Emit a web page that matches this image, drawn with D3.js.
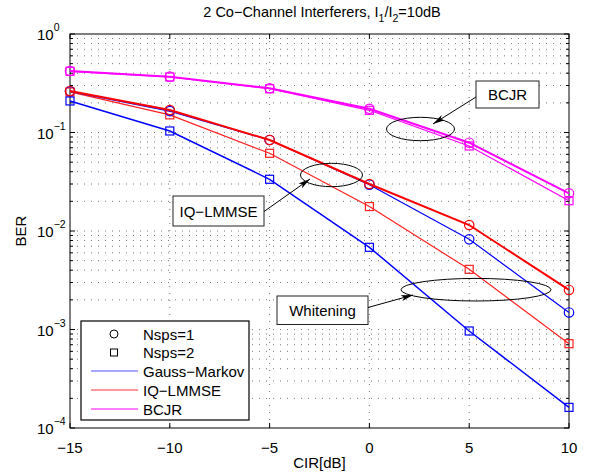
<!DOCTYPE html>
<html>
<head>
<meta charset="utf-8">
<script src="https://cdn.jsdelivr.net/npm/d3@7"></script>
<style>
    body { margin: 0; background: #fff; }
    svg { font-family: "Liberation Sans", Arial, sans-serif; }
</style>
</head>
<body>
<svg id="chart" width="590" height="473"></svg>
<script>
// Data
const cir_db = [-15, -10, -5, 0, 5, 10];
const gauss_nsps1 = [0.262, 0.165, 0.084, 0.0295, 0.00824, 0.00149];
const gauss_nsps2 = [0.209, 0.1036, 0.0335, 0.00683, 0.000966, 0.000162];
const iq_nsps1 = [0.264, 0.169, 0.0839, 0.030, 0.0115, 0.00252];
const iq_nsps2 = [0.258, 0.151, 0.0615, 0.0177, 0.00408, 0.000718];
const bcjr_nsps1 = [0.421, 0.369, 0.281, 0.174, 0.0788, 0.0241];
const bcjr_nsps2 = [0.418, 0.366, 0.278, 0.168, 0.073, 0.0203];

const x_ticks = [-15, -10, -5, 0, 5, 10];
const y_exponents = [0, -1, -2, -3, -4];
const legend_labels = ["Nsps=1", "Nsps=2", "Gauss\u2212Markov", "IQ\u2212LMMSE", "BCJR"];

const svg = d3.select("#chart");
const plot_left = 70, plot_right = 569, plot_top = 34, plot_bottom = 428;

const x = d3.scaleLinear().domain([-15, 10]).range([plot_left, plot_right]);
const y = d3.scaleLog().domain([1e-4, 1]).range([plot_bottom, plot_top]);

// Grid lines (dotted) - majors on x, majors + minors on y
const grid = svg.append("g")
    .attr("stroke", "#555")
    .attr("stroke-width", 0.8)
    .attr("stroke-dasharray", "1,6");

x_ticks.slice(1, -1).forEach(function(t) {
    grid.append("line")
        .attr("x1", x(t)).attr("x2", x(t))
        .attr("y1", plot_top).attr("y2", plot_bottom);
});

let y_minor = [];
for (let e = -4; e < 0; e++) {
    for (let m = 1; m < 10; m++) y_minor.push(m * Math.pow(10, e));
}
y_minor.slice(1).forEach(function(v) {
    grid.append("line")
        .attr("x1", plot_left).attr("x2", plot_right)
        .attr("y1", y(v)).attr("y2", y(v));
});

// Inner ticks on all four sides
const ticks = svg.append("g").attr("stroke", "#000").attr("stroke-width", 1);
x_ticks.forEach(function(t) {
    ticks.append("line").attr("x1", x(t)).attr("x2", x(t)).attr("y1", plot_bottom).attr("y2", plot_bottom - 5);
    ticks.append("line").attr("x1", x(t)).attr("x2", x(t)).attr("y1", plot_top).attr("y2", plot_top + 5);
});
y_minor.concat([1]).forEach(function(v) {
    const is_major = Math.abs(Math.log10(v) - Math.round(Math.log10(v))) < 1e-9;
    const len = is_major ? 5 : 3;
    ticks.append("line").attr("x1", plot_left).attr("x2", plot_left + len).attr("y1", y(v)).attr("y2", y(v));
    ticks.append("line").attr("x1", plot_right).attr("x2", plot_right - len).attr("y1", y(v)).attr("y2", y(v));
});

// Axis box
svg.append("rect")
    .attr("x", plot_left).attr("y", plot_top)
    .attr("width", plot_right - plot_left).attr("height", plot_bottom - plot_top)
    .attr("fill", "none").attr("stroke", "#000").attr("stroke-width", 1);

// Tick labels
x_ticks.forEach(function(t) {
    svg.append("text")
        .attr("x", x(t)).attr("y", 453)
        .attr("text-anchor", "middle")
        .attr("font-size", 15)
        .text(t < 0 ? "\u2212" + Math.abs(t) : t);
});
y_exponents.forEach(function(e) {
    const label = svg.append("text")
        .attr("x", 37).attr("y", y(Math.pow(10, e)) + 6)
        .attr("font-size", 15);
    label.append("tspan").text("10");
    label.append("tspan")
        .attr("dy", -9).attr("font-size", 10.5)
        .text(e < 0 ? "\u2212" + Math.abs(e) : e);
});

// Axis labels and title
svg.append("text")
    .attr("x", (plot_left + plot_right) / 2).attr("y", 468)
    .attr("text-anchor", "middle").attr("font-size", 15)
    .text("CIR[dB]");
svg.append("text")
    .attr("transform", "translate(26," + ((plot_top + plot_bottom) / 2) + ") rotate(-90)")
    .attr("text-anchor", "middle").attr("font-size", 15)
    .text("BER");

const title = svg.append("text")
    .attr("x", 322).attr("y", 17)
    .attr("text-anchor", "middle").attr("font-size", 14.5);
title.append("tspan").text("2 Co\u2212Channel Interferers, I");
title.append("tspan").attr("dy", 5).attr("font-size", 10.5).text("1");
title.append("tspan").attr("dy", -5).text("/I");
title.append("tspan").attr("dy", 5).attr("font-size", 10.5).text("2");
title.append("tspan").attr("dy", -5).text("=10dB");

// Series: values, colour, marker and line width
const series = [
    { values: bcjr_nsps2, color: "#ff00ff", marker: "square", width: 1.2 },
    { values: bcjr_nsps1, color: "#ff00ff", marker: "circle", width: 2 },
    { values: iq_nsps2, color: "#ff2020", marker: "square", width: 1.2 },
    { values: gauss_nsps2, color: "#0000ff", marker: "square", width: 1.5 },
    { values: gauss_nsps1, color: "#0000ff", marker: "circle", width: 1.2 },
    { values: iq_nsps1, color: "#ff0000", marker: "circle", width: 2 }
];

const line = d3.line()
    .x(function(d) { return x(d[0]); })
    .y(function(d) { return y(d[1]); });

const plot = svg.append("g");
series.forEach(function(s) {
    const pts = cir_db.map(function(c, i) { return [c, s.values[i]]; });
    plot.append("path")
        .attr("d", line(pts))
        .attr("fill", "none")
        .attr("stroke", s.color)
        .attr("stroke-width", s.width);
    pts.forEach(function(p) {
        if (s.marker === "circle") {
            plot.append("circle")
                .attr("cx", x(p[0])).attr("cy", y(p[1])).attr("r", 4.7)
                .attr("fill", "none").attr("stroke", s.color).attr("stroke-width", 1.2);
        } else {
            plot.append("rect")
                .attr("x", x(p[0]) - 4).attr("y", y(p[1]) - 4)
                .attr("width", 8).attr("height", 8)
                .attr("fill", "none").attr("stroke", s.color).attr("stroke-width", 1.2);
        }
    });
});

// Annotations: ellipse, box with text, arrow
svg.append("defs").append("marker")
    .attr("id", "arrow_head")
    .attr("viewBox", "0 0 12 6")
    .attr("refX", 12).attr("refY", 3)
    .attr("markerWidth", 12).attr("markerHeight", 6)
    .attr("markerUnits", "userSpaceOnUse")
    .attr("orient", "auto")
    .append("path").attr("d", "M0,0 L12,3 L0,6 L3,3 Z").attr("fill", "#000");

const notes = [
    { text: "BCJR", box: [476, 81, 63, 27], ellipse: [420.5, 129, 34, 11.7], from: [476, 97], to: [433, 124] },
    { text: "IQ\u2212LMMSE", box: [173, 196, 91, 30], ellipse: [331.5, 175, 31, 11.7], from: [264, 211.5], to: [310, 179] },
    { text: "Whitening", box: [277, 296, 91, 28.5], ellipse: [476, 289.7, 75, 11.3], from: [368, 307.5], to: [413, 295] }
];
notes.forEach(function(n) {
    svg.append("ellipse")
        .attr("cx", n.ellipse[0]).attr("cy", n.ellipse[1])
        .attr("rx", n.ellipse[2]).attr("ry", n.ellipse[3])
        .attr("fill", "none").attr("stroke", "#000").attr("stroke-width", 1);
    svg.append("rect")
        .attr("x", n.box[0]).attr("y", n.box[1])
        .attr("width", n.box[2]).attr("height", n.box[3])
        .attr("fill", "#fff").attr("stroke", "#222").attr("stroke-width", 1);
    svg.append("text")
        .attr("x", n.box[0] + n.box[2] / 2).attr("y", n.box[1] + n.box[3] / 2 + 5.5)
        .attr("text-anchor", "middle").attr("font-size", 15)
        .text(n.text);
    svg.append("line")
        .attr("x1", n.from[0]).attr("y1", n.from[1])
        .attr("x2", n.to[0]).attr("y2", n.to[1])
        .attr("stroke", "#000").attr("stroke-width", 1)
        .attr("marker-end", "url(#arrow_head)");
});

// Legend
const legend = svg.append("g");
legend.append("rect")
    .attr("x", 81).attr("y", 321).attr("width", 168).attr("height", 99)
    .attr("fill", "#fff").attr("stroke", "#000").attr("stroke-width", 1.2);
const legend_rows = [334, 352.5, 371, 390, 409];
const legend_colors = [null, null, "#5555ff", "#ff3333", "#ff00ff"];
legend_labels.forEach(function(label, i) {
    const ly = legend_rows[i];
    if (i === 0) {
        legend.append("circle").attr("cx", 114).attr("cy", ly).attr("r", 4)
            .attr("fill", "none").attr("stroke", "#000").attr("stroke-width", 1);
    } else if (i === 1) {
        legend.append("rect").attr("x", 110.5).attr("y", ly - 3.5).attr("width", 7).attr("height", 7)
            .attr("fill", "none").attr("stroke", "#000").attr("stroke-width", 1);
    } else {
        legend.append("line").attr("x1", 91).attr("x2", 138).attr("y1", ly).attr("y2", ly)
            .attr("stroke", legend_colors[i]).attr("stroke-width", 1.2);
    }
    legend.append("text")
        .attr("x", 143).attr("y", ly + 5.5)
        .attr("font-size", 15)
        .text(label);
});
</script>
</body>
</html>
